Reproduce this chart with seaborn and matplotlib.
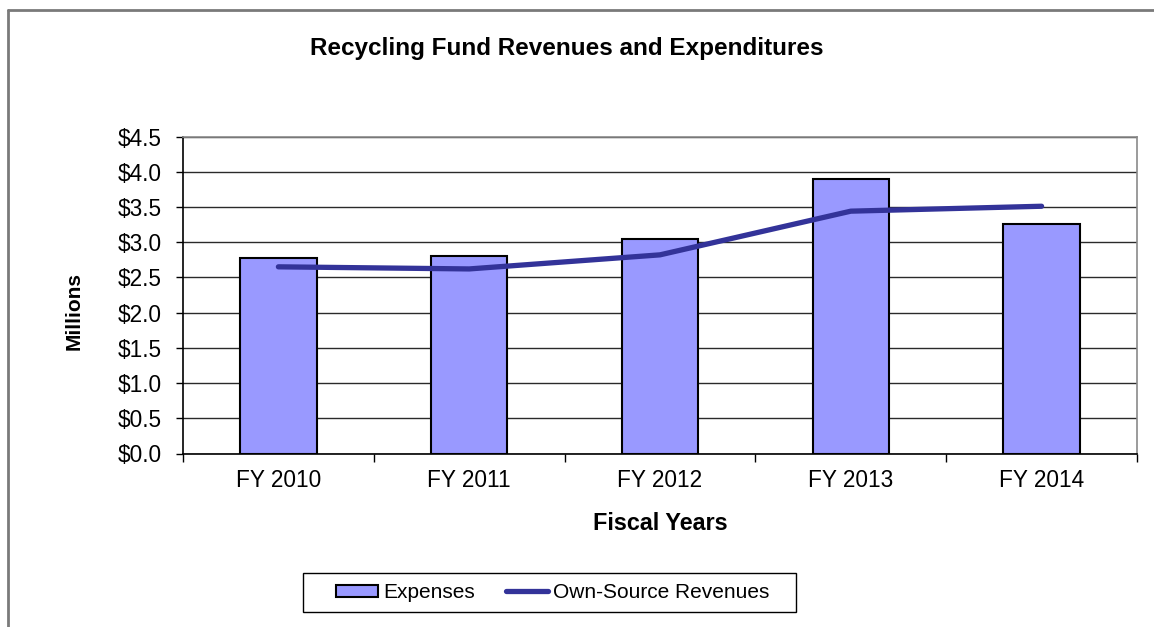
import numpy as np
import pandas as pd
import matplotlib
matplotlib.use("Agg")
import matplotlib.pyplot as plt
from matplotlib.patches import Patch, Rectangle
from matplotlib.lines import Line2D
from matplotlib.ticker import FuncFormatter, MultipleLocator, FixedLocator
import seaborn as sns

# Recycling fund, millions of dollars
years = ["FY 2010", "FY 2011", "FY 2012", "FY 2013", "FY 2014"]
expenses = [2.78, 2.81, 3.04, 3.90, 3.26]
own_source_revenues = [2.65, 2.62, 2.82, 3.44, 3.51]

BAR_COLOR = "#9999FF"
LINE_COLOR = "#333399"

sns.set_theme(style="white")
plt.rcParams["font.family"] = ["Liberation Sans", "DejaVu Sans"]
plt.rcParams["text.color"] = "black"
plt.rcParams["axes.labelcolor"] = "black"

W, H = 1154, 627
fig = plt.figure(figsize=(W / 100, H / 100), dpi=100)
fig.patch.set_facecolor("white")

# plot area in pixel coordinates
left, right, top, bottom = 183, 1137, 136.5, 453.5
ax = fig.add_axes([left / W, 1 - bottom / H, (right - left) / W, (bottom - top) / H])

df = pd.DataFrame({"year": years, "expenses": expenses, "revenues": own_source_revenues})

sns.barplot(data=df, x="year", y="expenses", color=BAR_COLOR, saturation=1,
            edgecolor="black", linewidth=1.5, width=0.4, ax=ax, zorder=3)
ax.plot(np.arange(len(years)), df["revenues"], color=LINE_COLOR, lw=3.8,
        solid_capstyle="round", solid_joinstyle="round", zorder=4)

ax.set_xlim(-0.5, len(years) - 0.5)
ax.set_ylim(0, 4.5)
ax.yaxis.set_major_locator(MultipleLocator(0.5))
ax.yaxis.set_major_formatter(FuncFormatter(lambda v, p: f"${v:.1f}"))
ax.yaxis.grid(True, color="#2a2a2a", lw=1)
ax.set_axisbelow(True)

# category boundaries get the tick marks, labels sit at the centres
ax.xaxis.set_minor_locator(FixedLocator(np.arange(len(years) + 1) - 0.5))
ax.tick_params(axis="x", which="major", length=0, pad=11, labelsize=16.3,
               labelcolor="black")
ax.tick_params(axis="x", which="minor", bottom=True, length=5.5, width=1, color="black")
ax.tick_params(axis="y", left=True, length=5, width=1, pad=10, labelsize=16.3,
               color="black", labelcolor="black")

for side in ("left", "bottom"):
    ax.spines[side].set_color("black")
    ax.spines[side].set_linewidth(1.2)
for side in ("top", "right"):
    ax.spines[side].set_visible(True)
    ax.spines[side].set_color("#8a8a8a")
    ax.spines[side].set_linewidth(1.2)

ax.set_xlabel("")
ax.set_ylabel("")

fig.text(567 / W, 1 - 48 / H, "Recycling Fund Revenues and Expenditures",
         ha="center", va="center", fontsize=17.5, fontweight="bold", color="black")
fig.text(660 / W, 1 - 523 / H, "Fiscal Years", ha="center", va="center",
         fontsize=16.8, fontweight="bold", color="black")
fig.text(74 / W, 1 - 311 / H, "Millions", ha="center", va="center", rotation=90,
         fontsize=15, fontweight="bold", color="black")

# outer chart frame (top and left edges visible)
fig.add_artist(Line2D([7.5 / W, 7.5 / W], [0, 1 - 9.5 / H], transform=fig.transFigure,
                      color="#7a7a7a", lw=2))
fig.add_artist(Line2D([7.5 / W, 1.0], [1 - 9.5 / H, 1 - 9.5 / H], transform=fig.transFigure,
                      color="#7a7a7a", lw=2))

# legend
handles = [
    Patch(facecolor=BAR_COLOR, edgecolor="black", linewidth=1.5, label="Expenses"),
    Line2D([0], [0], color=LINE_COLOR, lw=3.8, solid_capstyle="round",
           label="Own-Source Revenues"),
]
leg = fig.legend(handles=handles, loc="center", bbox_to_anchor=(553 / W, 1 - 592.5 / H),
                 ncol=2, frameon=False, fontsize=15, handlelength=2.0, handleheight=0.5,
                 handletextpad=0.25, columnspacing=1.5)
for t in leg.get_texts():
    t.set_color("black")
fig.add_artist(Rectangle((303 / W, 1 - 612 / H), (796 - 303) / W, (612 - 573) / H,
                         transform=fig.transFigure, facecolor="none",
                         edgecolor="black", lw=1))

fig.savefig("out.png", dpi=100, facecolor="white")
